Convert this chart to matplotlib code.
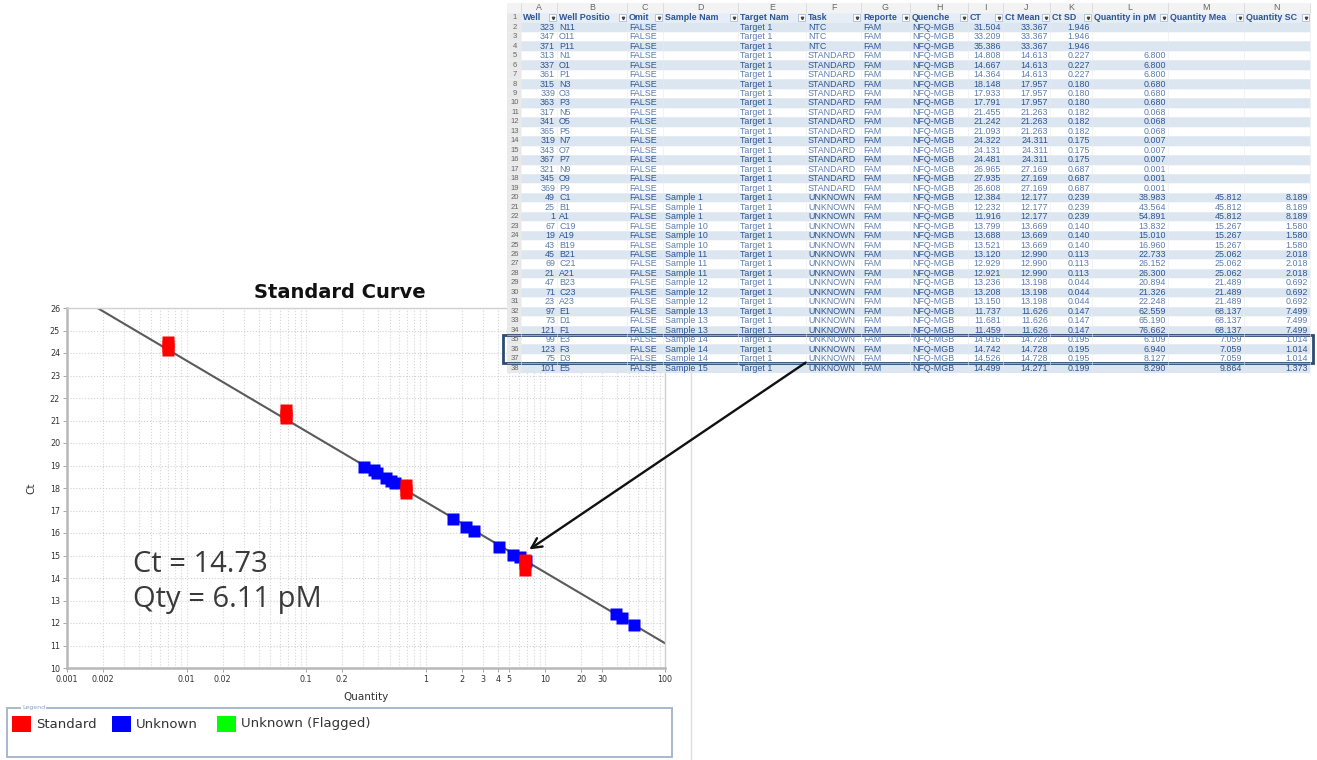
import numpy as np
import matplotlib
matplotlib.use("Agg")
import matplotlib.pyplot as plt
from matplotlib.patches import Rectangle
from matplotlib.ticker import LogLocator, NullFormatter

W, H = 1317, 760

# ---- spreadsheet data (rows 2..38) ----
col_letters = ["A", "B", "C", "D", "E", "F", "G", "H", "I", "J", "K", "L", "M", "N"]
col_headers = ["Well", "Well Positio", "Omit", "Sample Nam", "Target Nam", "Task", "Reporte",
               "Quenche", "CT", "Ct Mean", "Ct SD", "Quantity in pM", "Quantity Mea", "Quantity SC"]

wells = [323, 347, 371, 313, 337, 361, 315, 339, 363, 317, 341, 365, 319, 343, 367, 321, 345, 369,
         49, 25, 1, 67, 19, 43, 45, 69, 21, 47, 71, 23, 97, 73, 121, 99, 123, 75, 101]
positions = ["N11", "O11", "P11", "N1", "O1", "P1", "N3", "O3", "P3", "N5", "O5", "P5", "N7", "O7", "P7",
             "N9", "O9", "P9", "C1", "B1", "A1", "C19", "A19", "B19", "B21", "C21", "A21", "B23", "C23",
             "A23", "E1", "D1", "F1", "E3", "F3", "D3", "E5"]
samples = [""] * 18 + ["Sample 1", "Sample 1", "Sample 1", "Sample 10", "Sample 10", "Sample 10",
                       "Sample 11", "Sample 11", "Sample 11", "Sample 12", "Sample 12", "Sample 12",
                       "Sample 13", "Sample 13", "Sample 13", "Sample 14", "Sample 14", "Sample 14",
                       "Sample 15"]
tasks = ["NTC"] * 3 + ["STANDARD"] * 15 + ["UNKNOWN"] * 19
ct = [31.504, 33.209, 35.386, 14.808, 14.667, 14.364, 18.148, 17.933, 17.791, 21.455, 21.242, 21.093,
      24.322, 24.131, 24.481, 26.965, 27.935, 26.608, 12.384, 12.232, 11.916, 13.799, 13.688, 13.521,
      13.120, 12.929, 12.921, 13.236, 13.208, 13.150, 11.737, 11.681, 11.459, 14.916, 14.742, 14.526,
      14.499]
ct_mean = [33.367, 33.367, 33.367, 14.613, 14.613, 14.613, 17.957, 17.957, 17.957, 21.263, 21.263,
           21.263, 24.311, 24.311, 24.311, 27.169, 27.169, 27.169, 12.177, 12.177, 12.177, 13.669,
           13.669, 13.669, 12.990, 12.990, 12.990, 13.198, 13.198, 13.198, 11.626, 11.626, 11.626,
           14.728, 14.728, 14.728, 14.271]
ct_sd = [1.946, 1.946, 1.946, 0.227, 0.227, 0.227, 0.180, 0.180, 0.180, 0.182, 0.182, 0.182,
         0.175, 0.175, 0.175, 0.687, 0.687, 0.687, 0.239, 0.239, 0.239, 0.140, 0.140, 0.140,
         0.113, 0.113, 0.113, 0.044, 0.044, 0.044, 0.147, 0.147, 0.147, 0.195, 0.195, 0.195, 0.199]
nan = np.nan
qty = [nan, nan, nan, 6.800, 6.800, 6.800, 0.680, 0.680, 0.680, 0.068, 0.068, 0.068,
       0.007, 0.007, 0.007, 0.001, 0.001, 0.001, 38.983, 43.564, 54.891, 13.832, 15.010, 16.960,
       22.733, 26.152, 26.300, 20.894, 21.326, 22.248, 62.559, 65.190, 76.662, 6.109, 6.940, 8.127,
       8.290]
qty_mean = [nan] * 18 + [45.812, 45.812, 45.812, 15.267, 15.267, 15.267, 25.062, 25.062, 25.062,
                         21.489, 21.489, 21.489, 68.137, 68.137, 68.137, 7.059, 7.059, 7.059, 9.864]
qty_sd = [nan] * 18 + [8.189, 8.189, 8.189, 1.580, 1.580, 1.580, 2.018, 2.018, 2.018,
                       0.692, 0.692, 0.692, 7.499, 7.499, 7.499, 1.014, 1.014, 1.014, 1.373]

# ---- standard curve data ----
unk_qty = [0.304, 0.369, 0.391, 0.464, 0.511, 0.552, 1.68, 2.15, 2.51, 4.06, 5.41, 6.109, 6.940,
           38.983, 43.564, 54.891]
unk_ct = [18.93, 18.80, 18.67, 18.44, 18.31, 18.22, 16.62, 16.27, 16.09, 15.38, 15.02, 14.916, 14.742,
          12.384, 12.232, 11.916]
curve_slope = -3.14
curve_intercept = 17.38
x_tick_vals = [0.001, 0.002, 0.01, 0.02, 0.1, 0.2, 1, 2, 3, 4, 5, 10, 20, 30, 100]
x_tick_labels = ["0.001", "0.002", "0.01", "0.02", "0.1", "0.2", "1", "2", "3", "4", "5", "10", "20",
                 "30", "100"]
legend_labels = ["Standard", "Unknown", "Unknown (Flagged)"]
legend_colors = ["#ff0000", "#0000ff", "#00ff00"]

fig = plt.figure(figsize=(W / 100, H / 100), dpi=100)
fig.patch.set_facecolor("white")

# ---- chart ----
ax = fig.add_axes([67 / W, 1 - 668 / H, (665 - 67) / W, (668 - 308) / H])
ax.set_xscale("log")
ax.set_xlim(0.001, 100)
ax.set_ylim(10, 26)
ax.set_yticks(range(10, 27))
ax.set_xticks(x_tick_vals)
ax.set_xticklabels(x_tick_labels)
ax.xaxis.set_minor_locator(LogLocator(base=10, subs=range(1, 10)))
ax.xaxis.set_minor_formatter(NullFormatter())
ax.grid(True, which="both", axis="x", ls=":", color="#d6d6d6", lw=0.8)
ax.grid(True, which="major", axis="y", ls=":", color="#d0d0d0", lw=0.8)
ax.tick_params(axis="both", which="major", labelsize=5.8, colors="#333333", length=3, width=0.6,
               pad=2)
ax.tick_params(axis="both", which="major", color="#999999")
ax.tick_params(axis="x", which="minor", length=0)
for side in ["left", "bottom"]:
    ax.spines[side].set_color("#b8b8b8")
    ax.spines[side].set_linewidth(1.8)
for side in ["top", "right"]:
    ax.spines[side].set_color("#d0d0d0")
    ax.spines[side].set_linewidth(1.0)
ax.set_axisbelow(True)

# fitted line across the visible range
q_start = 10 ** ((26 - curve_intercept) / curve_slope)
qline = np.array([q_start, 100])
ax.plot(qline, curve_intercept + curve_slope * np.log10(qline), color="#5a5a5a", lw=1.5, zorder=2)

std_q = [q for q, t in zip(qty, tasks) if t == "STANDARD"]
std_c = [c for c, t in zip(ct, tasks) if t == "STANDARD"]
ax.plot(unk_qty, unk_ct, ls="none", marker="s", ms=8, color="#0000ff", mec="none", zorder=3)
ax.plot(std_q, std_c, ls="none", marker="s", ms=8.8, color="#ff0000", mec="none", zorder=4)

ax.set_xlabel("Quantity", fontsize=7.5, color="#333333", labelpad=6)
ax.set_ylabel("Ct", fontsize=7.5, color="#333333", labelpad=10)

# ---- overlay in pixel coordinates ----
ov = fig.add_axes([0, 0, 1, 1])
ov.set_xlim(0, W)
ov.set_ylim(H, 0)
ov.axis("off")
ov.patch.set_alpha(0)
ov.set_zorder(5)

ov.text(340, 293, "Standard Curve", fontsize=14, fontweight="bold", ha="center", va="center",
        color="#111111")
ov.text(133, 565, "Ct = 14.73", fontsize=21, family="Open Sans", ha="left", va="center",
        color="#3a3a3a")
ov.text(133, 599, "Qty = 6.11 pM", fontsize=21, family="Open Sans", ha="left", va="center",
        color="#3a3a3a")

# legend box
ov.add_patch(Rectangle((7, 708), 665, 49, fill=False, ec="#a9b8cf", lw=1.4))
ov.text(22, 707, "Legend", fontsize=4.5, color="#8aa2c8", ha="left", va="center",
        bbox=dict(fc="white", ec="none", pad=0.5))
leg_x = [12, 112, 217]
for lx, lab, colr in zip(leg_x, legend_labels, legend_colors):
    ov.add_patch(Rectangle((lx, 716), 19, 16, fc=colr, ec="none"))
    ov.text(lx + 24, 724, lab, fontsize=9.5, color="#333333", ha="left", va="center")

# panel divider
ov.plot([691, 691], [373, 760], color="#d8dde6", lw=1.0)

# ---- spreadsheet ----
col_edges = [521, 557, 627, 663, 738, 806, 861, 910, 968, 1003, 1050, 1092, 1168, 1244, 1310]
col_align = ["right", "left", "left", "left", "left", "left", "left", "left",
             "right", "right", "right", "right", "right", "right"]
rn_left, rn_right = 507, 521
row_h = 9.47
top0 = 13.0
tfont = dict(family="Liberation Sans", fontsize=6.4)

def row_top(n):
    return top0 + (n - 1) * row_h

# column letter row
ov.add_patch(Rectangle((rn_left, 3), col_edges[-1] - rn_left, top0 - 3, fc="#f3f3f3", ec="none"))
for i, let in enumerate(col_letters):
    xc = (col_edges[i] + col_edges[i + 1]) / 2
    ov.text(xc, 8, let, ha="center", va="center", color="#666666", **tfont)
for xe in col_edges:
    ov.plot([xe, xe], [3, top0], color="#d4d4d4", lw=0.5)

n_rows = 1 + len(wells)
# row number column
ov.add_patch(Rectangle((rn_left, top0), rn_right - rn_left, n_rows * row_h, fc="#e9e9e9", ec="none"))

# body backgrounds
for n in range(1, n_rows + 1):
    fc = "#dce6f1" if n % 2 == 0 else "white"
    if n == 1:
        fc = "#e6edf6"
    ov.add_patch(Rectangle((rn_right, row_top(n)), col_edges[-1] - rn_right, row_h, fc=fc,
                           ec="none"))
    ov.text((rn_left + rn_right) / 2 + 1, row_top(n) + row_h / 2, str(n), ha="center", va="center",
            color="#666666", family="Liberation Sans", fontsize=5.5)
    ov.plot([rn_left, col_edges[-1]], [row_top(n), row_top(n)], color="#eef1f6", lw=0.4)

for xe in col_edges:
    ov.plot([xe, xe], [top0, top0 + n_rows * row_h], color="#e6ebf2", lw=0.4)

# header
for i, hdr in enumerate(col_headers):
    x0, x1 = col_edges[i], col_edges[i + 1]
    yc = row_top(1) + row_h / 2
    ov.text(x0 + 2, yc, hdr, ha="left", va="center", color="#2f5597", fontweight="bold",
            clip_on=True, **tfont)
    ov.add_patch(Rectangle((x1 - 8, yc - 3.5), 7, 7, fc="white", ec="#9db3cf", lw=0.5))
    ov.plot([x1 - 4.5], [yc], marker="v", ms=1.8, color="#444444")

def fmt(v):
    return "" if np.isnan(v) else "%.3f" % v

for r in range(len(wells)):
    n = r + 2
    yc = row_top(n) + row_h / 2
    cells = [str(wells[r]), positions[r], "FALSE", samples[r], "Target 1", tasks[r], "FAM",
             "NFQ-MGB", fmt(ct[r]), fmt(ct_mean[r]), fmt(ct_sd[r]), fmt(qty[r]), fmt(qty_mean[r]),
             fmt(qty_sd[r])]
    tc = "#2e5590" if n % 2 == 0 else "#5b7db0"
    for i, val in enumerate(cells):
        if val == "":
            continue
        x0, x1 = col_edges[i], col_edges[i + 1]
        if col_align[i] == "right":
            ov.text(x1 - 2, yc, val, ha="right", va="center", color=tc, **tfont)
        else:
            ov.text(x0 + 2, yc, val, ha="left", va="center", color=tc, **tfont)

# highlight rows 35-37
ov.add_patch(Rectangle((503, row_top(35)), 1313 - 503, 3 * row_h, fill=False, ec="#2b4b72", lw=2.0))

# arrow to the sample on the curve
ov.annotate("", xy=(527, 551), xytext=(808, 361),
            arrowprops=dict(arrowstyle="->", color="#111111", lw=1.7, mutation_scale=18))

fig.savefig("out.png", dpi=100, facecolor="white")
